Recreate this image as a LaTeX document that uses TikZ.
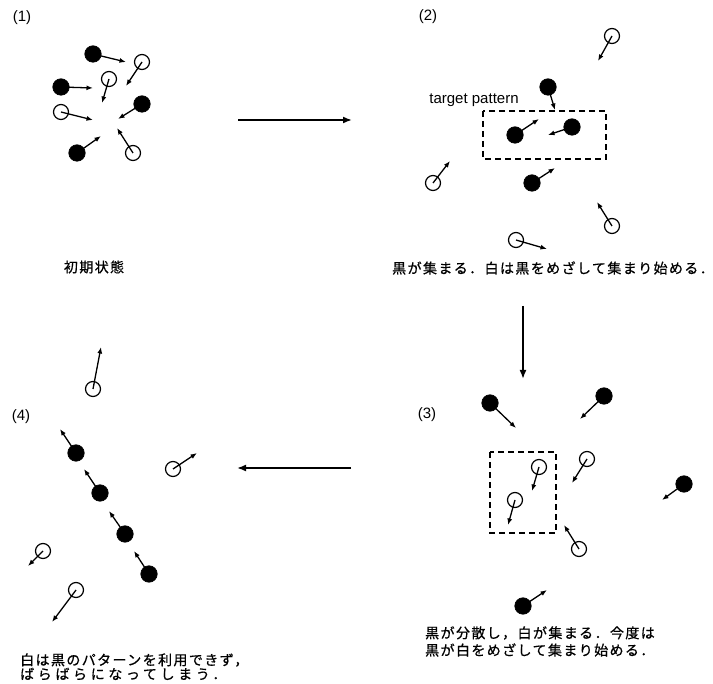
\documentclass[tikz,border=0pt]{standalone}
\usepackage{fontspec}
\setmainfont{Liberation Sans}
\newfontfamily\jfont[LetterSpace=10,FakeBold=0.6]{Noto Sans CJK JP}
\usetikzlibrary{arrows.meta}
\newcommand{\mkparticle}[4]{%
  \node[#1] (#2) at (#3) {};
  \coordinate (#2e) at (#4);
  \draw[mv] (#2.center) -- (#2e);}
\begin{document}
\begin{tikzpicture}[x=1pt,y=-1pt,
  blk/.style={circle,fill=black,draw=black,line width=0.6pt,inner sep=0pt,minimum size=16.5pt},
  wht/.style={circle,draw=black,fill=none,line width=1.2pt,inner sep=0pt,minimum size=15pt},
  mv/.style={line width=1.3pt,-{Latex[length=6.5pt,width=5pt]}},
  flow/.style={line width=1.7pt,-{Latex[length=9pt,width=7pt]}},
  tgt/.style={draw,line width=1.5pt,dash pattern=on 6pt off 4pt},
  lbl/.style={font=\fontsize{15}{18}\selectfont,inner sep=0pt},
  jcap/.style={font=\jfont\fontsize{14}{16}\selectfont,inner sep=0pt,anchor=west}]
\useasboundingbox[fill=white] (0,0) rectangle (713,684);

% ---------- panel 1 ----------
\node[lbl] (n1) at (22,18) {(1)};
\mkparticle{blk}{b1a}{93,54}{126,62}
\mkparticle{wht}{w1a}{142,62}{126,86}
\mkparticle{wht}{w1b}{109,79}{102,103}
\mkparticle{blk}{b1b}{61,87}{93,88}
\mkparticle{wht}{w1c}{61,112}{93,120}
\mkparticle{blk}{b1c}{142,104}{118,119}
\mkparticle{blk}{b1d}{77,153}{101,136}
\mkparticle{wht}{w1d}{133,153}{117,128}
\node[jcap,anchor=center] (c1) at (94,267) {初期状態};

% ---------- panel 2 ----------
\node[lbl] (n2) at (428,17) {(2)};
\node[lbl] (tp) at (474,100) {target pattern};
\draw[tgt] (483,111) rectangle (606,159);
\mkparticle{wht}{w2a}{612,36}{598,61}
\mkparticle{blk}{b2a}{548,87}{555,110}
\mkparticle{blk}{b2b}{515,135}{539,119}
\mkparticle{blk}{b2c}{572,127}{548,135}
\mkparticle{wht}{w2b}{433,183}{450,161}
\mkparticle{blk}{b2d}{532,183}{555,168}
\mkparticle{wht}{w2c}{612,226}{597,202}
\mkparticle{wht}{w2d}{516,240}{547,249}
\node[jcap] (c2) at (392,268) {黒が集まる．白は黒をめざして集まり始める．};

% ---------- panel 3 ----------
\node[lbl] (n3) at (427,415) {(3)};
\draw[tgt] (490,452) rectangle (556,533);
\mkparticle{blk}{b3a}{490,403}{516,428}
\mkparticle{blk}{b3b}{604,396}{580,419}
\mkparticle{wht}{w3a}{539,467}{532,491}
\mkparticle{wht}{w3b}{515,500}{508,525}
\mkparticle{wht}{w3c}{587,459}{572,483}
\mkparticle{blk}{b3c}{684,484}{662,500}
\mkparticle{wht}{w3d}{579,549}{564,525}
\mkparticle{blk}{b3d}{523,606}{547,590}
\node[jcap] (c3a) at (425,633) {黒が分散し，白が集まる．今度は};
\node[jcap] (c3b) at (425,650) {黒が白をめざして集まり始める．};

% ---------- panel 4 ----------
\node[lbl] (n4) at (21,417) {(4)};
\mkparticle{wht}{w4a}{93,389}{101,347}
\mkparticle{blk}{b4a}{76,453}{60,429}
\mkparticle{blk}{b4b}{100,493}{84,469}
\mkparticle{blk}{b4c}{125,534}{109,511}
\mkparticle{blk}{b4d}{149,574}{134,551}
\mkparticle{wht}{w4b}{173,469}{197,453}
\mkparticle{wht}{w4c}{43,551}{28,566}
\mkparticle{wht}{w4d}{76,590}{52,622}
\node[jcap] (c4a) at (20,660) {白は黒のパターンを利用できず，};
\node[jcap] (c4b) at (20,674) {\addfontfeature{LetterSpace=26}ばらばらになってしまう．};

% ---------- flow arrows ----------
\coordinate (f1s) at (238,120); \coordinate (f1e) at (352,120);
\coordinate (f2s) at (523,306); \coordinate (f2e) at (523,379);
\coordinate (f3s) at (351,468); \coordinate (f3e) at (237,468);
\draw[flow] (f1s) -- (f1e);
\draw[flow] (f2s) -- (f2e);
\draw[flow] (f3s) -- (f3e);
\end{tikzpicture}
\end{document}
